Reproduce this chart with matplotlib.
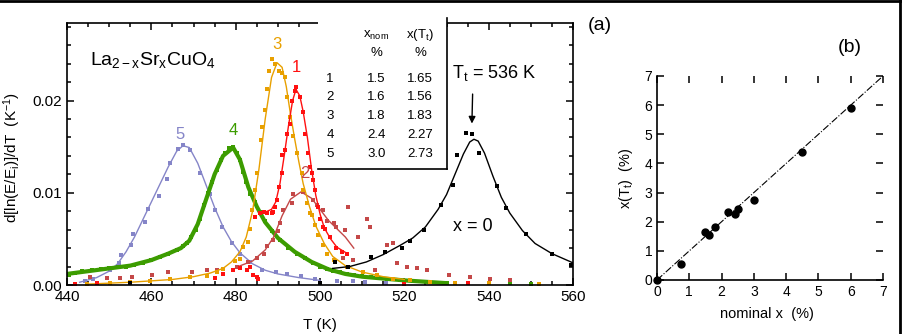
import matplotlib
matplotlib.use("Agg")
import matplotlib.pyplot as plt
from matplotlib.lines import Line2D
from matplotlib.patches import Rectangle
from matplotlib.ticker import MultipleLocator

plt.rcParams['font.family'] = ['Liberation Sans', 'DejaVu Sans']
plt.rcParams['mathtext.fontset'] = 'custom'
plt.rcParams['mathtext.rm'] = 'Liberation Sans'
plt.rcParams['mathtext.it'] = 'Liberation Sans'

# ---- panel (a): d[ln(E/Ei)]/dT vs T ----
# sample 5 (blue)
t5 = [444.3, 446.2, 450.2, 452.4, 452.8, 455.1, 455.6, 458.5, 459.3, 461.9, 463.6, 464.4, 466.4, 467.6,
      469.2, 471.5, 473.9, 475.1, 476.7, 479.1, 481.0, 483.4, 486.2, 489.5, 492.1, 495.5, 498.8, 504.0,
      507.9, 510.7, 515.6]
y5 = [0.0004, 0.0007, 0.0016, 0.0024, 0.0032, 0.0043, 0.0055, 0.0068, 0.0082, 0.0096, 0.0115, 0.0132, 0.0147, 0.0152,
      0.0146, 0.0121, 0.0099, 0.0081, 0.0063, 0.0045, 0.0034, 0.0025, 0.0016, 0.0014, 0.0012, 0.0010, 0.0006, 0.0004,
      0.0004, 0.0003, 0.0002]
fit_t5 = [443, 447, 450, 452, 454, 456, 458, 460, 462, 464, 466, 467.5, 469, 471, 473, 475, 477, 479, 481, 484,
          487, 490, 495, 500]
fit_y5 = [0.0003, 0.0008, 0.0015, 0.0023, 0.0036, 0.0052, 0.0071, 0.0090, 0.0109, 0.0128, 0.0145, 0.0151, 0.0149,
          0.0132, 0.0108, 0.0084, 0.0063, 0.0047, 0.0035, 0.0023, 0.0016, 0.0012, 0.0008, 0.0005]

# sample 4 (green)
t4 = [440.5, 442, 443.5, 446, 448, 450, 452, 454, 456, 458, 460, 462, 464, 466, 467.5, 468.5, 469.5, 470.5, 471.5,
      472.5, 473.5, 474.5, 475.5, 476.5, 477.5, 478.5, 479.4, 480.3, 481, 481.8, 482.5, 483.5, 484.5, 485.8, 487,
      488.5, 490.5, 492.5, 494.5, 496.5, 498.4, 500, 501.6, 503, 504.7, 506.5, 508, 510, 512, 514, 516, 519, 522,
      526, 530, 535, 545, 550]
y4 = [0.0011, 0.0013, 0.0015, 0.0016, 0.0017, 0.0018, 0.0019, 0.0020, 0.0022, 0.0024, 0.0027, 0.0030, 0.0034, 0.0038,
      0.0042, 0.0046, 0.0052, 0.0060, 0.0072, 0.0087, 0.0100, 0.0112, 0.0125, 0.0136, 0.0143, 0.0148, 0.0150, 0.0143,
      0.0135, 0.0122, 0.0112, 0.0099, 0.0090, 0.0079, 0.0069, 0.0058, 0.0049, 0.0040, 0.0034, 0.0029, 0.0024, 0.0020,
      0.0017, 0.0015, 0.0014, 0.0012, 0.0011, 0.0010, 0.0009, 0.0008, 0.0007, 0.0005, 0.0004, 0.0003, 0.0002, 0.0002,
      0.0002, 0.0001]
fit_t4 = [440, 445, 450, 455, 460, 464, 467, 469, 471, 473, 475, 477, 479.4, 481, 483, 485, 487, 490, 494, 498,
          502, 506, 510, 515, 520, 530]
fit_y4 = [0.0012, 0.0015, 0.0018, 0.0021, 0.0027, 0.0034, 0.0040, 0.0048, 0.0066, 0.0093, 0.0120, 0.0140, 0.0149,
          0.0136, 0.0106, 0.0085, 0.0068, 0.0051, 0.0036, 0.0025, 0.0017, 0.0012, 0.0009, 0.0007, 0.0005, 0.0002]

# sample 3 (orange)
t3 = [444.7, 450.2, 455, 459.7, 464.4, 469.2, 473.1, 475.5, 477.1, 479.8, 481, 481.8, 482.9, 483.4, 483.8, 484.6,
      485.0, 485.9, 486.2, 487.0, 487.4, 488.0, 488.5, 489.3, 490.2, 491.0, 491.7, 492.1, 492.9, 493.7, 494.5, 495.7,
      496.0, 496.8, 497.6, 498.0, 498.8, 499.6, 500.8, 501.6, 503.2, 506.3, 510.3, 513.4, 517.4, 521.3, 526, 532,
      540, 552]
y3 = [0.0001, 0.0002, 0.0003, 0.0004, 0.0006, 0.0009, 0.0010, 0.0014, 0.0017, 0.0026, 0.0028, 0.0041, 0.0047, 0.0061,
      0.0081, 0.0103, 0.0121, 0.0157, 0.0171, 0.0190, 0.0213, 0.0232, 0.0245, 0.0240, 0.0232, 0.0230, 0.0226, 0.0204,
      0.0182, 0.0161, 0.0143, 0.0121, 0.0103, 0.0089, 0.0078, 0.0076, 0.0065, 0.0054, 0.0043, 0.0034, 0.0027, 0.0020,
      0.0014, 0.0011, 0.0007, 0.0005, 0.0003, 0.0002, 0.0002, 0.0001]
fit_t3 = [445, 455, 465, 470, 474, 477, 479, 481, 482.5, 484, 485.5, 487, 488.5, 489.8, 491, 492, 493, 494, 495,
          496, 497.5, 499, 501, 503, 506, 510, 515, 520]
fit_y3 = [0.0001, 0.0003, 0.0006, 0.0009, 0.0013, 0.0018, 0.0025, 0.0036, 0.0052, 0.0080, 0.0125, 0.0180, 0.0225,
          0.0241, 0.0236, 0.0215, 0.0185, 0.0158, 0.0133, 0.0110, 0.0085, 0.0064, 0.0045, 0.0031, 0.0021, 0.0014,
          0.0009, 0.0006]

# sample 1 (red)
t1 = [442, 447, 475, 477, 479.4, 481.0, 482.6, 483.4, 484.2, 485.0, 485.4, 484.6, 485.8, 486.8, 487.4, 488.5, 488.9,
      489.3, 489.9, 490.3, 490.9, 490.9, 491.7, 492.1, 492.9, 493.3, 494.0, 494.3, 495.3, 496.0, 496.4, 497.2, 497.6,
      498.0, 498.4, 498.8, 499.6, 500.0, 500.8, 501.2, 502.4, 503.9, 505.1, 506.3, 520, 535]
y1 = [0.0001, 0.0002, 0.0008, 0.0012, 0.0016, 0.0018, 0.0016, 0.0020, 0.0011, 0.0009, 0.0007, 0.0074, 0.0078, 0.0079,
      0.0078, 0.0078, 0.0079, 0.0085, 0.0092, 0.0106, 0.0121, 0.0141, 0.0146, 0.0164, 0.0175, 0.0200, 0.0210, 0.0215,
      0.0204, 0.0188, 0.0164, 0.0143, 0.0128, 0.0121, 0.0114, 0.0103, 0.0085, 0.0072, 0.0063, 0.0061, 0.0052, 0.0040,
      0.0036, 0.0034, 0.0001, 0.0002]
fit_t1 = [487, 488.5, 489.5, 490.5, 491.5, 492.5, 493.5, 494.3, 495.2, 496, 497, 498, 499, 500, 501, 502.5, 504, 506.5]
fit_y1 = [0.0079, 0.0082, 0.0090, 0.0110, 0.0140, 0.0172, 0.0200, 0.0212, 0.0205, 0.0188, 0.0160, 0.0125, 0.0097,
          0.0077, 0.0062, 0.0050, 0.0041, 0.0034]

# sample 2 (dark red)
t2 = [445.5, 449.4, 452.6, 455.3, 460.1, 464, 469.6, 473.1, 475.5, 480.2, 483.0, 485.0, 486.6, 487.4, 488.9, 490.1,
      490.5, 491.3, 493.3, 493.7, 496.0, 498.4, 499.2, 500.8, 501.6, 503.2, 503.9, 505.9, 506.7, 509.1, 511.1, 511.9,
      505.5, 507.9, 513.1, 515.8, 517.4, 518.2, 520.6, 522.9, 525.3, 530.7, 535.6, 540.3, 545.1]
y2 = [0.0009, 0.0008, 0.0008, 0.0009, 0.0011, 0.0014, 0.0014, 0.0016, 0.0016, 0.0020, 0.0025, 0.0029, 0.0034, 0.0042,
      0.0049, 0.0058, 0.0067, 0.0081, 0.0089, 0.0099, 0.0101, 0.0092, 0.0087, 0.0081, 0.0069, 0.0067, 0.0063, 0.0060,
      0.0085, 0.0052, 0.0072, 0.0063, 0.0029, 0.0027, 0.0016, 0.0043, 0.0045, 0.0024, 0.0020, 0.0018, 0.0016, 0.0011,
      0.0009, 0.0007, 0.0005]
fit_t2 = [480, 484, 487, 489, 491, 493, 495.5, 498, 500, 502, 504, 506, 508]
fit_y2 = [0.0019, 0.0026, 0.0038, 0.0052, 0.0075, 0.0093, 0.0101, 0.0094, 0.0082, 0.0070, 0.0061, 0.0052, 0.0040]

# x = 0 (black)
t0 = [455, 500, 503.6, 506.7, 512.0, 515.4, 519.4, 521.3, 524.7, 528.8, 531.6, 532.6, 534.6, 536.0, 537.8, 541.9,
      544.1, 548.9, 555.0, 559.4]
y0 = [0.0002, 0.0002, 0.0025, 0.0019, 0.0030, 0.0036, 0.0040, 0.0048, 0.0060, 0.0087, 0.0108, 0.0141, 0.0165, 0.0164,
      0.0143, 0.0107, 0.0083, 0.0055, 0.0034, 0.0022]
fit_t0 = [503, 507, 511, 515, 519, 522, 525, 528, 530, 532, 534, 535.5, 536.5, 537.5, 539, 541, 543, 545, 548, 551,
          555, 560]
fit_y0 = [0.0018, 0.0020, 0.0025, 0.0033, 0.0043, 0.0051, 0.0063, 0.0082, 0.0098, 0.0120, 0.0142, 0.0155, 0.0158,
          0.0156, 0.0143, 0.0118, 0.0095, 0.0078, 0.0059, 0.0045, 0.0034, 0.0024]

table_ids = ["1", "2", "3", "4", "5"]
table_xnom = ["1.5", "1.6", "1.8", "2.4", "3.0"]
table_xtt = ["1.65", "1.56", "1.83", "2.27", "2.73"]

# ---- panel (b): x(Tt) vs nominal x ----
x_nominal = [0, 0.75, 1.5, 1.6, 1.8, 2.2, 2.4, 2.5, 3.0, 4.5, 6.0]
x_tt = [0, 0.55, 1.65, 1.56, 1.83, 2.32, 2.27, 2.45, 2.73, 4.40, 5.90]
line_x = [0, 7]
line_y = [0, 7]

fig = plt.figure(figsize=(9.02, 3.34), dpi=100)

# frame lines on top and right of the picture
fig.add_artist(Line2D([0, 1], [0.996, 0.996], transform=fig.transFigure, color="black", lw=2))
fig.add_artist(Line2D([0.998, 0.998], [0, 1], transform=fig.transFigure, color="black", lw=2))

ax = fig.add_axes([0.0743, 0.1467, 0.561, 0.7844])

series = [
    (t5, y5, fit_t5, fit_y5, "#8585c8"),
    (t4, y4, fit_t4, fit_y4, "#3c9c00"),
    (t2, y2, fit_t2, fit_y2, "#c44848"),
    (t3, y3, fit_t3, fit_y3, "#e8a000"),
    (t1, y1, fit_t1, fit_y1, "#ff1010"),
    (t0, y0, fit_t0, fit_y0, "black"),
]
for t, y, ft, fy, c in series:
    lw = 3.0 if c == "#3c9c00" else 1.0
    ax.plot(ft, fy, color=c, lw=lw)
    ax.plot(t, y, "s", color=c, ms=3.2, mew=0)

ax.set_xlim(440, 560)
ax.set_ylim(0, 0.0284)
ax.xaxis.set_major_locator(MultipleLocator(20))
ax.xaxis.set_minor_locator(MultipleLocator(5))
ax.yaxis.set_major_locator(MultipleLocator(0.01))
ax.yaxis.set_minor_locator(MultipleLocator(0.002))
ax.yaxis.set_major_formatter(plt.FormatStrFormatter("%.2f"))
ax.tick_params(which="both", direction="in", top=True, right=True, width=1.1, labelsize=11, colors="black")
ax.tick_params(which="major", length=5)
ax.tick_params(which="minor", length=3)
for s in ax.spines.values():
    s.set_linewidth(1.2)

ax.set_xlabel("T (K)", fontsize=11)
ax.xaxis.set_label_coords(0.5, -0.126)
ax.set_ylabel("d[ln(E/E$_\\mathrm{i}$)]/dT  (K$^{-1}$)", fontsize=11)
ax.yaxis.set_label_coords(-0.087, 0.485)

ax.text(445.5, 0.0244, "La$_\\mathrm{2-x}$Sr$_\\mathrm{x}$CuO$_\\mathrm{4}$", fontsize=14, va="center")
ax.text(466.8, 0.0163, "5", color="#8585c8", fontsize=12, ha="center", va="center")
ax.text(479.4, 0.0168, "4", color="#3c9c00", fontsize=12, ha="center", va="center")
ax.text(489.8, 0.0261, "3", color="#e8a000", fontsize=12, ha="center", va="center")
ax.text(494.3, 0.0236, "1", color="#ff1010", fontsize=12, ha="center", va="center")
ax.text(496.4, 0.0121, "2", color="#c44848", fontsize=12, ha="center", va="center")
ax.text(531.3, 0.0230, "T$_\\mathrm{t}$ = 536 K", fontsize=13, va="center")
ax.annotate("", xy=(536.0, 0.0172), xytext=(536.2, 0.0210),
            arrowprops=dict(arrowstyle="-|>", color="black", lw=1.0, mutation_scale=10))
ax.text(531.5, 0.0063, "x = 0", fontsize=13, va="center")

# inset table box
box = Rectangle((0.496, 0.443), 0.255, 0.58, transform=ax.transAxes, facecolor="white",
                edgecolor="none", zorder=5, clip_on=False)
ax.add_patch(box)
ax.plot([0.751, 0.751], [0.443, 1.02], transform=ax.transAxes, color="black", lw=1.2, zorder=6, clip_on=False)
ax.plot([0.496, 0.751], [0.443, 0.443], transform=ax.transAxes, color="black", lw=1.2, zorder=6, clip_on=False)

kw = dict(transform=ax.transAxes, fontsize=9.5, ha="center", va="center", zorder=7)
ax.text(0.611, 0.954, "x$_\\mathrm{nom}$", **kw)
ax.text(0.698, 0.954, "x(T$_\\mathrm{t}$)", **kw)
ax.text(0.611, 0.885, "%", **kw)
ax.text(0.698, 0.885, "%", **kw)
rows_y = [0.786, 0.718, 0.645, 0.573, 0.500]
for i in range(len(table_ids)):
    ax.text(0.52, rows_y[i], table_ids[i], **kw)
    ax.text(0.611, rows_y[i], table_xnom[i], **kw)
    ax.text(0.698, rows_y[i], table_xtt[i], **kw)

fig.text(600 / 902, 1 - 25 / 334, "(a)", fontsize=14, ha="center", va="center")

# ---- panel (b) ----
bx = fig.add_axes([0.7284, 0.1617, 0.2506, 0.6108])
bx.plot(line_x, line_y, color="black", lw=0.8, ls="-.")
bx.plot(x_nominal, x_tt, "o", color="black", ms=5, clip_on=False, zorder=5)
bx.set_xlim(0, 7)
bx.set_ylim(0, 7)
bx.xaxis.set_major_locator(MultipleLocator(1))
bx.yaxis.set_major_locator(MultipleLocator(1))
bx.spines["top"].set_visible(False)
bx.spines["right"].set_visible(False)
bx.spines["left"].set_linewidth(1.2)
bx.spines["bottom"].set_linewidth(1.2)
bx.tick_params(direction="in", top=True, right=True, length=5, width=1.1, labelsize=10)
bx.set_xlabel("nominal x  (%)", fontsize=10.5)
bx.xaxis.set_label_coords(0.487, -0.13)
bx.set_ylabel("x(T$_\\mathrm{t}$)  (%)", fontsize=10.5)
bx.yaxis.set_label_coords(-0.097, 0.5)

fig.text(850 / 902, 1 - 47 / 334, "(b)", fontsize=14, ha="center", va="center")

plt.savefig("out.png", dpi=100)
